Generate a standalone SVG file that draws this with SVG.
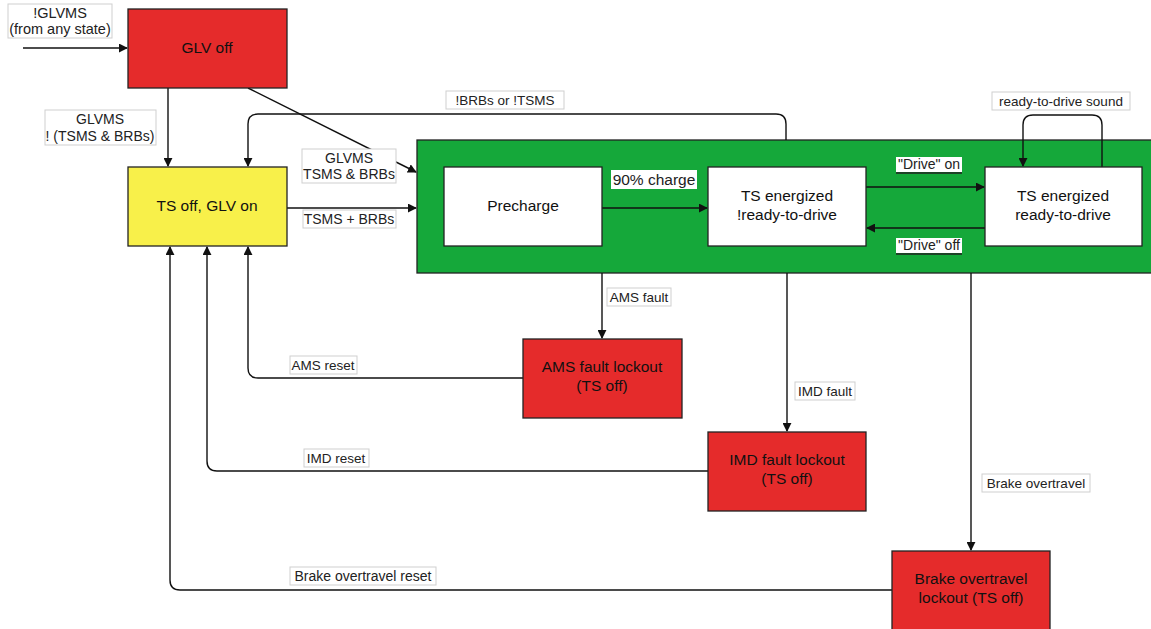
<svg xmlns="http://www.w3.org/2000/svg" width="1151" height="629" viewBox="0 0 1151 629">
<style>
.node{stroke:#222;stroke-width:1.3}
.red{fill:#e52b2b}
.yellow{fill:#f8f04a}
.green{fill:#15a83a}
.white{fill:#fff}
.nt{font-family:"Liberation Sans",Arial,sans-serif;font-size:15.5px;fill:#111;text-anchor:middle}
.lt{font-family:"Liberation Sans",Arial,sans-serif;font-size:13.5px;fill:#222;text-anchor:middle}
.lb{fill:#fff;stroke:#cfcfcf;stroke-width:1}
.edge{fill:none;stroke:#111;stroke-width:1.4}
</style>
<defs>
<marker id="arr" viewBox="0 0 10 10" refX="9" refY="5" markerWidth="9" markerHeight="9" markerUnits="userSpaceOnUse" orient="auto">
<path d="M0,0 L10,5 L0,10 Z" fill="#111"/>
</marker>
</defs>
<rect width="1151" height="629" fill="#fff"/>

<g id="green-container"><rect class="node green" x="417" y="140" width="735" height="133"/></g>

<g id="connectors">
<path class="edge" d="M23,48 H127" marker-end="url(#arr)"/>
<path class="edge" d="M168,88 V166" marker-end="url(#arr)"/>
<path class="edge" d="M248,88 L416,172" marker-end="url(#arr)"/>
<path class="edge" d="M287,208 H416" marker-end="url(#arr)"/>
<path class="edge" d="M786,140 V124 Q786,114 776,114 H258 Q248,114 248,124 V166" marker-end="url(#arr)"/>
<path class="edge" d="M1102,167 V125 Q1102,115 1092,115 H1033 Q1023,115 1023,125 V166" marker-end="url(#arr)"/>
<path class="edge" d="M602,208 H707" marker-end="url(#arr)"/>
<path class="edge" d="M866,187 H984" marker-end="url(#arr)"/>
<path class="edge" d="M985,228 H867" marker-end="url(#arr)"/>
<path class="edge" d="M602,273 V338" marker-end="url(#arr)"/>
<path class="edge" d="M787,273 V431" marker-end="url(#arr)"/>
<path class="edge" d="M971,273 V550" marker-end="url(#arr)"/>
<path class="edge" d="M523,378 H258 Q248,378 248,368 V247" marker-end="url(#arr)"/>
<path class="edge" d="M708,471 H217 Q207,471 207,461 V247" marker-end="url(#arr)"/>
<path class="edge" d="M892,590 H180 Q170,590 170,580 V247" marker-end="url(#arr)"/>
</g>

<g id="labels">
<rect class="lb" x="8" y="4" width="104" height="34"/>
<text class="lt" x="60" y="18" style="font-size:14.5px">!GLVMS</text>
<text class="lt" x="60" y="34" style="font-size:14.5px">(from any state)</text>
<rect class="lb" x="45" y="110" width="111" height="35"/>
<text class="lt" x="100" y="124" style="font-size:14px">GLVMS</text>
<text class="lt" x="100" y="141" style="font-size:14px">! (TSMS &amp; BRBs)</text>
<rect class="lb" x="302" y="149" width="94" height="34"/>
<text class="lt" x="349" y="163" style="font-size:14px">GLVMS</text>
<text class="lt" x="349" y="179" style="font-size:14px">TSMS &amp; BRBs</text>
<rect class="lb" x="303" y="210" width="93" height="18"/>
<text class="lt" x="349" y="224" style="font-size:14px">TSMS + BRBs</text>
<rect class="lb" x="446" y="91" width="118" height="18"/>
<text class="lt" x="505" y="105">!BRBs or !TSMS</text>
<rect class="lb" x="992" y="92" width="138" height="18"/>
<text class="lt" x="1061" y="106">ready-to-drive sound</text>
<rect fill="#fff" x="611" y="170" width="86" height="19"/>
<text class="lt" x="654" y="185" style="font-size:15.5px">90% charge</text>
<rect fill="#fff" x="896" y="157" width="66" height="15"/>
<text class="lt" x="929" y="169" style="font-size:14px">"Drive" on</text>
<line x1="896" y1="173" x2="962" y2="173" stroke="#222" stroke-width="1.5"/>
<rect fill="#fff" x="896" y="238" width="66" height="15"/>
<text class="lt" x="929" y="250" style="font-size:14px">"Drive" off</text>
<line x1="896" y1="254" x2="962" y2="254" stroke="#222" stroke-width="1.5"/>
<rect class="lb" x="607" y="288" width="64" height="18"/>
<text class="lt" x="639" y="302">AMS fault</text>
<rect class="lb" x="795" y="382" width="60" height="18"/>
<text class="lt" x="825" y="396">IMD fault</text>
<rect class="lb" x="982" y="474" width="108" height="18"/>
<text class="lt" x="1036" y="488">Brake overtravel</text>
<rect class="lb" x="290" y="356" width="67" height="18"/>
<text class="lt" x="323" y="370">AMS reset</text>
<rect class="lb" x="304" y="449" width="65" height="18"/>
<text class="lt" x="336" y="463">IMD reset</text>
<rect class="lb" x="290" y="567" width="146" height="18"/>
<text class="lt" x="363" y="581" style="font-size:14px">Brake overtravel reset</text>
</g>

<g id="glv-off"><rect class="node red" x="128" y="9" width="159" height="79"/><text class="nt" x="207" y="53">GLV off</text></g>
<g id="ts-off-glv-on"><rect class="node yellow" x="128" y="167" width="159" height="79"/><text class="nt" x="207" y="211">TS off, GLV on</text></g>
<g id="precharge"><rect class="node white" x="444" y="167" width="158" height="79"/><text class="nt" x="523" y="211">Precharge</text></g>
<g id="ts-energized-not-rtd"><rect class="node white" x="708" y="167" width="158" height="79"/><text class="nt" x="787" y="201">TS energized</text><text class="nt" x="787" y="220">!ready-to-drive</text></g>
<g id="ts-energized-rtd"><rect class="node white" x="985" y="167" width="157" height="79"/><text class="nt" x="1063" y="201">TS energized</text><text class="nt" x="1063" y="220">ready-to-drive</text></g>
<g id="ams-lockout"><rect class="node red" x="523" y="339" width="159" height="79"/><text class="nt" x="602" y="372">AMS fault lockout</text><text class="nt" x="602" y="391">(TS off)</text></g>
<g id="imd-lockout"><rect class="node red" x="708" y="432" width="158" height="79"/><text class="nt" x="787" y="465">IMD fault lockout</text><text class="nt" x="787" y="484">(TS off)</text></g>
<g id="brake-lockout"><rect class="node red" x="892" y="551" width="158" height="80"/><text class="nt" x="971" y="584">Brake overtravel</text><text class="nt" x="971" y="603">lockout (TS off)</text></g>
</svg>
